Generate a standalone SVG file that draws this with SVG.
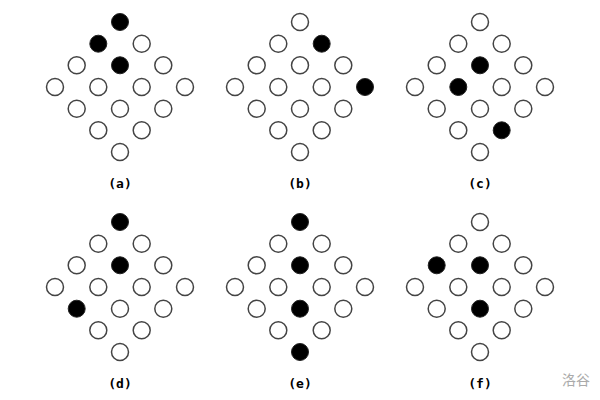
<svg xmlns="http://www.w3.org/2000/svg" width="600" height="400" viewBox="0 0 600 400">
<style>
.w{fill:#fff;stroke:#444;stroke-width:1.5}
.b{fill:#000;stroke:#222;stroke-width:1}
.lab{font-family:"DejaVu Sans Mono","Liberation Mono",monospace;font-size:13px;font-weight:bold;fill:#000;text-anchor:middle}
.wm{font-family:"Noto Sans CJK SC",sans-serif;font-size:14px;fill:#aaa;text-anchor:middle}
</style>
<rect width="600" height="400" fill="#fff"/>
<g id="panel-a" transform="translate(120,87)">
<circle class="b" cx="0" cy="-65" r="8.5"/>
<circle class="b" cx="-21.7" cy="-43.3" r="8.5"/><circle class="w" cx="21.7" cy="-43.3" r="8.5"/>
<circle class="w" cx="-43.3" cy="-21.7" r="8.5"/><circle class="b" cx="0" cy="-21.7" r="8.5"/><circle class="w" cx="43.3" cy="-21.7" r="8.5"/>
<circle class="w" cx="-65" cy="0" r="8.5"/><circle class="w" cx="-21.7" cy="0" r="8.5"/><circle class="w" cx="21.7" cy="0" r="8.5"/><circle class="w" cx="65" cy="0" r="8.5"/>
<circle class="w" cx="-43.3" cy="21.7" r="8.5"/><circle class="w" cx="0" cy="21.7" r="8.5"/><circle class="w" cx="43.3" cy="21.7" r="8.5"/>
<circle class="w" cx="-21.7" cy="43.3" r="8.5"/><circle class="w" cx="21.7" cy="43.3" r="8.5"/>
<circle class="w" cx="0" cy="65" r="8.5"/>
<text class="lab" x="0" y="100.5">(a)</text>
</g>
<g id="panel-b" transform="translate(300,87)">
<circle class="w" cx="0" cy="-65" r="8.5"/>
<circle class="w" cx="-21.7" cy="-43.3" r="8.5"/><circle class="b" cx="21.7" cy="-43.3" r="8.5"/>
<circle class="w" cx="-43.3" cy="-21.7" r="8.5"/><circle class="w" cx="0" cy="-21.7" r="8.5"/><circle class="w" cx="43.3" cy="-21.7" r="8.5"/>
<circle class="w" cx="-65" cy="0" r="8.5"/><circle class="w" cx="-21.7" cy="0" r="8.5"/><circle class="w" cx="21.7" cy="0" r="8.5"/><circle class="b" cx="65" cy="0" r="8.5"/>
<circle class="w" cx="-43.3" cy="21.7" r="8.5"/><circle class="w" cx="0" cy="21.7" r="8.5"/><circle class="w" cx="43.3" cy="21.7" r="8.5"/>
<circle class="w" cx="-21.7" cy="43.3" r="8.5"/><circle class="w" cx="21.7" cy="43.3" r="8.5"/>
<circle class="w" cx="0" cy="65" r="8.5"/>
<text class="lab" x="0" y="100.5">(b)</text>
</g>
<g id="panel-c" transform="translate(480,87)">
<circle class="w" cx="0" cy="-65" r="8.5"/>
<circle class="w" cx="-21.7" cy="-43.3" r="8.5"/><circle class="w" cx="21.7" cy="-43.3" r="8.5"/>
<circle class="w" cx="-43.3" cy="-21.7" r="8.5"/><circle class="b" cx="0" cy="-21.7" r="8.5"/><circle class="w" cx="43.3" cy="-21.7" r="8.5"/>
<circle class="w" cx="-65" cy="0" r="8.5"/><circle class="b" cx="-21.7" cy="0" r="8.5"/><circle class="w" cx="21.7" cy="0" r="8.5"/><circle class="w" cx="65" cy="0" r="8.5"/>
<circle class="w" cx="-43.3" cy="21.7" r="8.5"/><circle class="w" cx="0" cy="21.7" r="8.5"/><circle class="w" cx="43.3" cy="21.7" r="8.5"/>
<circle class="w" cx="-21.7" cy="43.3" r="8.5"/><circle class="b" cx="21.7" cy="43.3" r="8.5"/>
<circle class="w" cx="0" cy="65" r="8.5"/>
<text class="lab" x="0" y="100.5">(c)</text>
</g>
<g id="panel-d" transform="translate(120,287)">
<circle class="b" cx="0" cy="-65" r="8.5"/>
<circle class="w" cx="-21.7" cy="-43.3" r="8.5"/><circle class="w" cx="21.7" cy="-43.3" r="8.5"/>
<circle class="w" cx="-43.3" cy="-21.7" r="8.5"/><circle class="b" cx="0" cy="-21.7" r="8.5"/><circle class="w" cx="43.3" cy="-21.7" r="8.5"/>
<circle class="w" cx="-65" cy="0" r="8.5"/><circle class="w" cx="-21.7" cy="0" r="8.5"/><circle class="w" cx="21.7" cy="0" r="8.5"/><circle class="w" cx="65" cy="0" r="8.5"/>
<circle class="b" cx="-43.3" cy="21.7" r="8.5"/><circle class="w" cx="0" cy="21.7" r="8.5"/><circle class="w" cx="43.3" cy="21.7" r="8.5"/>
<circle class="w" cx="-21.7" cy="43.3" r="8.5"/><circle class="w" cx="21.7" cy="43.3" r="8.5"/>
<circle class="w" cx="0" cy="65" r="8.5"/>
<text class="lab" x="0" y="100.5">(d)</text>
</g>
<g id="panel-e" transform="translate(300,287)">
<circle class="b" cx="0" cy="-65" r="8.5"/>
<circle class="w" cx="-21.7" cy="-43.3" r="8.5"/><circle class="w" cx="21.7" cy="-43.3" r="8.5"/>
<circle class="w" cx="-43.3" cy="-21.7" r="8.5"/><circle class="b" cx="0" cy="-21.7" r="8.5"/><circle class="w" cx="43.3" cy="-21.7" r="8.5"/>
<circle class="w" cx="-65" cy="0" r="8.5"/><circle class="w" cx="-21.7" cy="0" r="8.5"/><circle class="w" cx="21.7" cy="0" r="8.5"/><circle class="w" cx="65" cy="0" r="8.5"/>
<circle class="w" cx="-43.3" cy="21.7" r="8.5"/><circle class="b" cx="0" cy="21.7" r="8.5"/><circle class="w" cx="43.3" cy="21.7" r="8.5"/>
<circle class="w" cx="-21.7" cy="43.3" r="8.5"/><circle class="w" cx="21.7" cy="43.3" r="8.5"/>
<circle class="b" cx="0" cy="65" r="8.5"/>
<text class="lab" x="0" y="100.5">(e)</text>
</g>
<g id="panel-f" transform="translate(480,287)">
<circle class="w" cx="0" cy="-65" r="8.5"/>
<circle class="w" cx="-21.7" cy="-43.3" r="8.5"/><circle class="w" cx="21.7" cy="-43.3" r="8.5"/>
<circle class="b" cx="-43.3" cy="-21.7" r="8.5"/><circle class="b" cx="0" cy="-21.7" r="8.5"/><circle class="w" cx="43.3" cy="-21.7" r="8.5"/>
<circle class="w" cx="-65" cy="0" r="8.5"/><circle class="w" cx="-21.7" cy="0" r="8.5"/><circle class="w" cx="21.7" cy="0" r="8.5"/><circle class="w" cx="65" cy="0" r="8.5"/>
<circle class="w" cx="-43.3" cy="21.7" r="8.5"/><circle class="b" cx="0" cy="21.7" r="8.5"/><circle class="w" cx="43.3" cy="21.7" r="8.5"/>
<circle class="w" cx="-21.7" cy="43.3" r="8.5"/><circle class="w" cx="21.7" cy="43.3" r="8.5"/>
<circle class="w" cx="0" cy="65" r="8.5"/>
<text class="lab" x="0" y="100.5">(f)</text>
</g>
<text class="wm" x="576" y="385">洛谷</text>
</svg>
